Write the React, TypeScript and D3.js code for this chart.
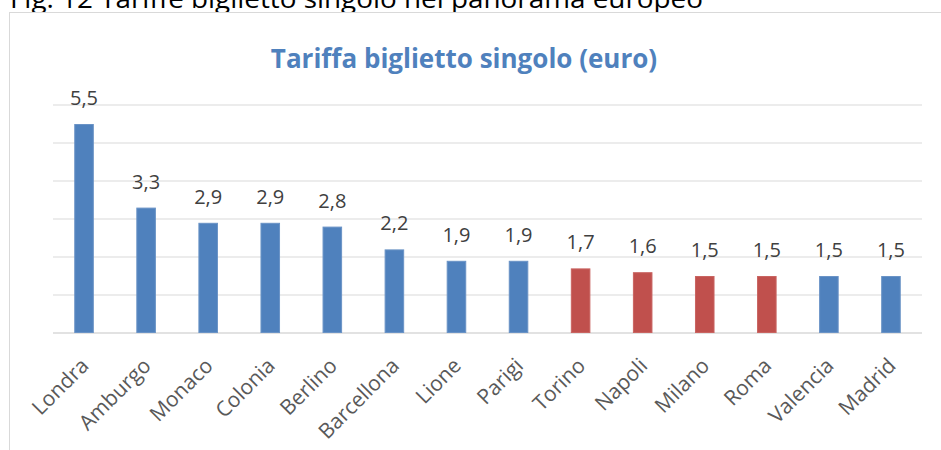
import { useEffect } from 'react';
import * as d3 from 'd3';

const cities = [
  'Londra', 'Amburgo', 'Monaco', 'Colonia', 'Berlino', 'Barcellona', 'Lione',
  'Parigi', 'Torino', 'Napoli', 'Milano', 'Roma', 'Valencia', 'Madrid',
];
const fares = [5.5, 3.3, 2.9, 2.9, 2.8, 2.2, 1.9, 1.9, 1.7, 1.6, 1.5, 1.5, 1.5, 1.5];
const italian = ['Torino', 'Napoli', 'Milano', 'Roma'];
const yTicks = [0, 1, 2, 3, 4, 5, 6];

const width = 941;
const height = 450;
const plot = { left: 53, right: 922, top: 105, bottom: 333 };
const font = "'Open Sans', 'Noto Sans', sans-serif";

function App() {
  useEffect(() => {
    document.body.style.margin = '0';
  }, []);

  const x = d3
    .scaleBand<string>()
    .domain(cities)
    .range([plot.left, plot.right])
    .paddingInner(0.685)
    .paddingOuter(0.3425);
  const y = d3.scaleLinear().domain([0, 6]).range([plot.bottom, plot.top]);
  const fmt = (v: number) => d3.format('.1f')(v).replace('.', ',');

  return (
    <svg width={width} height={height} style={{ display: 'block', background: '#fff' }}>
      <text x={10} y={8} fontFamily={font} fontSize={25} fill="#000" textLength={693} lengthAdjust="spacingAndGlyphs">
        Fig. 12 Tariffe biglietto singolo nel panorama europeo
      </text>
      <rect x={9.5} y={12.5} width={960} height={460} fill="#fff" stroke="#d9d9d9" strokeWidth={1} />
      <text x={464} y={68} textAnchor="middle" fontFamily={font} fontWeight="bold" fontSize={26} fill="#4f81bd">
        Tariffa biglietto singolo (euro)
      </text>
      {yTicks.map((t) => (
        <line key={t} x1={plot.left} x2={plot.right} y1={y(t)} y2={y(t)} stroke="#d9d9d9" strokeWidth={t === 0 ? 1.5 : 1} />
      ))}
      {cities.map((c, i) => {
        const red = italian.includes(c);
        return (
          <g key={c}>
            <rect
              x={(x(c) ?? 0) + 0.5}
              y={y(fares[i]) + 0.5}
              width={x.bandwidth() - 1}
              height={y(0) - y(fares[i]) - 1}
              fill={red ? '#c0504d' : '#4f81bd'}
              stroke={red ? '#c96461' : '#6a93c6'}
              strokeWidth={1}
            />
            <text
              x={(x(c) ?? 0) + x.bandwidth() / 2}
              y={y(fares[i]) - 19}
              textAnchor="middle"
              fontFamily={font}
              fontSize={20}
              fill="#404040"
            >
              {fmt(fares[i])}
            </text>
            <text
              transform={`translate(${(x(c) ?? 0) + x.bandwidth() / 2 + 6},${plot.bottom + 34}) rotate(-45)`}
              textAnchor="end"
              fontFamily={font}
              fontSize={21}
              fill="#595959"
            >
              {c}
            </text>
          </g>
        );
      })}
    </svg>
  );
}

export default App;
